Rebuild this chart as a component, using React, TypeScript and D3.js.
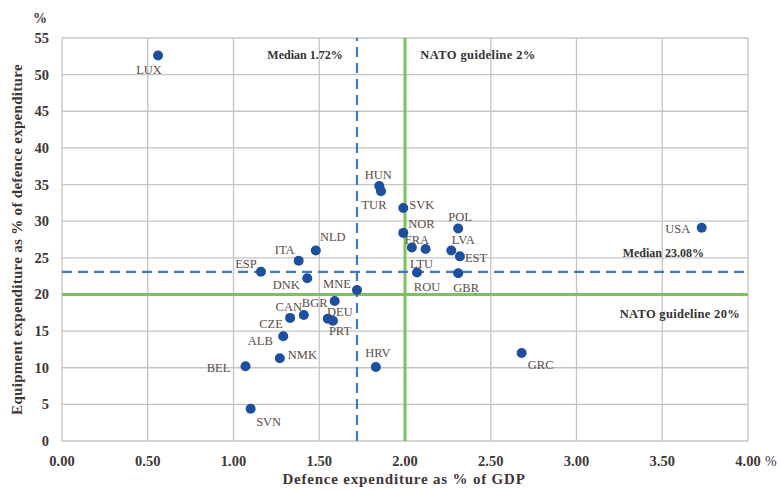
import React from "react";
import * as d3 from "d3";

const countries = ["LUX","HUN","TUR","SVK","NOR","FRA","LTU","ROU","POL","LVA","EST","GBR","USA","ITA","NLD","ESP","DNK","MNE","BGR","CAN","CZE","DEU","PRT","ALB","NMK","BEL","HRV","SVN","GRC"];
const gdpShare = [0.56,1.85,1.86,1.99,1.99,2.04,2.12,2.07,2.31,2.27,2.32,2.31,3.73,1.38,1.48,1.16,1.43,1.72,1.59,1.41,1.33,1.55,1.58,1.29,1.27,1.07,1.83,1.10,2.68];
const equipShare = [52.6,34.8,34.1,31.8,28.4,26.4,26.2,23.0,29.0,26.0,25.2,22.9,29.1,24.6,26.0,23.1,22.2,20.6,19.1,17.2,16.8,16.7,16.4,14.3,11.3,10.2,10.1,4.4,12.0];
// label offsets (px) and anchor
const labelDx = [-9,-1,-7,6,5,5,-4,10,2,12,5,8,-24,-14,17,-15,-21,-20,-20,-15,-19,12,7,-23,8,-27,2,18,19];
const labelDy = [14,-12,13,-3,-9,-8,14,14,-12,-11,1,14,1,-11,-14,-8,6,-7,1,-8,6,-7,10,4,-4,1,-14,13,11];
const labelAnchor = ["middle","middle","middle","start","start","middle","middle","middle","middle","middle","start","middle","middle","middle","middle","middle","middle","middle","middle","middle","middle","middle","middle","middle","start","middle","middle","middle","middle"];

const xTicks = [0,0.5,1,1.5,2,2.5,3,3.5,4];
const yTicks = [0,5,10,15,20,25,30,35,40,45,50,55];
const medianX = 1.72;
const medianY = 23.08;
const natoX = 2;
const natoY = 20;

const W = 780, H = 490;
const FONT = "'Liberation Serif', 'Times New Roman', serif";

export default function App() {
  const x = d3.scaleLinear().domain([0, 4]).range([62, 748]);
  const y = d3.scaleLinear().domain([0, 55]).range([441, 38]);
  const txt = "#3f3636";
  return (
    <svg width={W} height={H} style={{ position: "absolute", left: 0, top: 0, background: "#fff" }} fontFamily={FONT}>
      <rect x={0} y={0} width={W} height={H} fill="#fff" />
      {xTicks.map((t) => (
        <line key={"gx" + t} x1={x(t)} x2={x(t)} y1={y(0)} y2={y(55)} stroke="#c4c4c4" strokeWidth={1.3} />
      ))}
      {yTicks.map((t) => (
        <line key={"gy" + t} x1={x(0)} x2={x(4)} y1={y(t)} y2={y(t)} stroke="#c4c4c4" strokeWidth={1.3} />
      ))}
      <line x1={x(natoX)} x2={x(natoX)} y1={y(0)} y2={y(55)} stroke="#7cc25a" strokeWidth={3} />
      <line x1={x(0)} x2={x(4)} y1={y(natoY)} y2={y(natoY)} stroke="#7cc25a" strokeWidth={3} />
      <line x1={x(medianX)} x2={x(medianX)} y1={y(0)} y2={y(55)} stroke="#3f78c4" strokeWidth={2.2} strokeDasharray="10,6" />
      <line x1={x(0)} x2={x(4)} y1={y(medianY)} y2={y(medianY)} stroke="#3f78c4" strokeWidth={2.2} strokeDasharray="10,6" />
      {xTicks.map((t) => (
        <text key={"tx" + t} x={x(t)} y={466} textAnchor="middle" fontSize={14.5} fontWeight="bold" fill={txt}>{d3.format(".2f")(t)}</text>
      ))}
      <text x={x(4) + 17} y={466} fontSize={14} fill={txt}>%</text>
      {yTicks.map((t) => (
        <text key={"ty" + t} x={49} y={y(t) + 5} textAnchor="end" fontSize={14.5} fontWeight="bold" fill={txt}>{t}</text>
      ))}
      <text x={40} y={23} textAnchor="middle" fontSize={14} fontWeight="bold" fill={txt}>%</text>
      <text x={404} y={484} textAnchor="middle" fontSize={15} fontWeight="bold" letterSpacing={0.8} fill={txt}>Defence expenditure as % of GDP</text>
      <text transform={`translate(22,${y(27.5)}) rotate(-90)`} textAnchor="middle" fontSize={15} fontWeight="bold" letterSpacing={0.3} fill={txt}>Equipment expenditure as % of defence expenditure</text>
      <text x={305} y={59} textAnchor="middle" fontSize={12} fontWeight="bold" fill="#333">Median 1.72%</text>
      <text x={478} y={59} textAnchor="middle" fontSize={12.5} fontWeight="bold" letterSpacing={0.4} fill="#333">NATO guideline 2%</text>
      <text x={704} y={257} textAnchor="end" fontSize={12} fontWeight="bold" fill="#333">Median 23.08%</text>
      <text x={740} y={318} textAnchor="end" fontSize={12.5} fontWeight="bold" letterSpacing={0.3} fill="#333">NATO guideline 20%</text>
      {countries.map((c, i) => (
        <g key={c}>
          <circle cx={x(gdpShare[i])} cy={y(equipShare[i])} r={5} fill="#1d4f9e" />
          <text x={x(gdpShare[i]) + labelDx[i]} y={y(equipShare[i]) + labelDy[i] + 4.5} textAnchor={labelAnchor[i]} fontSize={12.5} fill="#5a4c46">{c}</text>
        </g>
      ))}
    </svg>
  );
}
